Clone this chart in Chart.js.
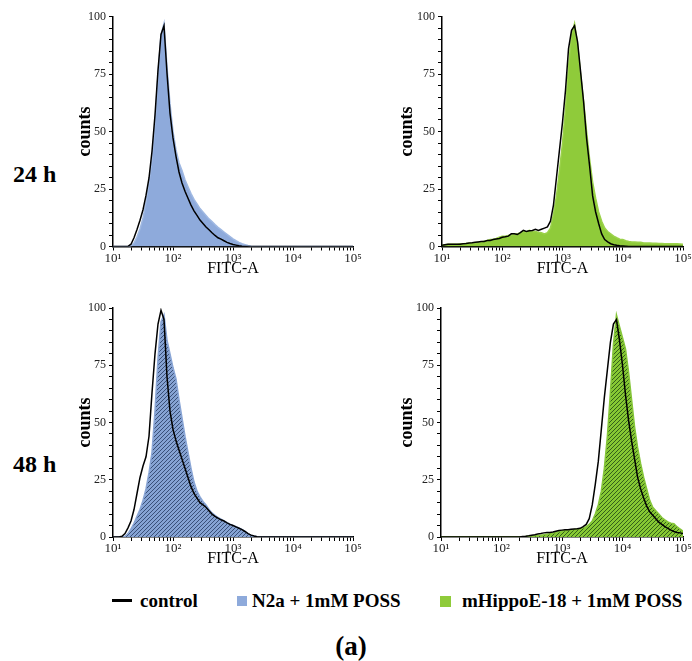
<!DOCTYPE html>
<html>
<head>
<meta charset="utf-8">
<script src="https://cdn.jsdelivr.net/npm/chart.js@4.4.1/dist/chart.umd.min.js"></script>
<style>
    html, body { margin: 0; padding: 0; background: #fff; }
    body {
        width: 692px; height: 661px; position: relative; overflow: hidden;
        font-family: 'Liberation Serif', 'Times New Roman', serif; color: #000;
    }
    canvas { position: absolute; }
    .row-label { position: absolute; left: 13px; font-weight: bold; font-size: 24px; line-height: 24px; }
    .legend-text { position: absolute; top: 591px; font-weight: bold; font-size: 19px; line-height: 20px; white-space: nowrap; }
    .legend-box { position: absolute; top: 596px; width: 10px; height: 10px; }
    .legend-line { position: absolute; left: 112px; top: 599px; width: 20px; height: 2.5px; background: #000; }
    .caption { position: absolute; left: 300px; width: 102px; top: 632px; text-align: center; font-weight: bold; font-size: 27px; line-height: 28px; }
</style>
</head>
<body>

<div class="row-label" style="top:162px">24 h</div>
<div class="row-label" style="top:452px">48 h</div>

<canvas id="chartN2a24" width="310" height="285" style="left:60px;top:0px"></canvas>
<canvas id="chartHippo24" width="307" height="285" style="left:385px;top:0px"></canvas>
<canvas id="chartN2a48" width="310" height="280" style="left:60px;top:295px"></canvas>
<canvas id="chartHippo48" width="307" height="280" style="left:385px;top:295px"></canvas>

<div class="legend-line"></div>
<div class="legend-text" style="left:140px">control</div>
<div class="legend-box" style="left:237px;background:#8eaadb"></div>
<div class="legend-text" style="left:252px">N2a + 1mM POSS</div>
<div class="legend-box" style="left:440px;width:11px;height:11px;background:#8fcb3a"></div>
<div class="legend-text" style="left:462px">mHippoE-18 + 1mM POSS</div>

<div class="caption">(a)</div>

<script>
// ===== Datos (exponente log10 de FITC-A y cuentas normalizadas) =====
const logFitc = [
    1.00, 1.05, 1.10, 1.15, 1.20, 1.25, 1.30, 1.35, 1.40, 1.45,
    1.50, 1.55, 1.60, 1.65, 1.70, 1.75, 1.80, 1.85, 1.90, 1.95,
    2.00, 2.05, 2.10, 2.15, 2.20, 2.25, 2.30, 2.35, 2.40, 2.45,
    2.50, 2.55, 2.60, 2.65, 2.70, 2.75, 2.80, 2.85, 2.90, 2.95,
    3.00, 3.05, 3.10, 3.15, 3.20, 3.25, 3.30, 3.35, 3.40, 3.45,
    3.50, 3.55, 3.60, 3.65, 3.70, 3.75, 3.80, 3.85, 3.90, 3.95,
    4.00, 4.05, 4.10, 4.15, 4.20, 4.25, 4.30, 4.35, 4.40, 4.45,
    4.50, 4.55, 4.60, 4.65, 4.70, 4.75, 4.80, 4.85, 4.90, 4.95,
    5.00
];

const decadeLabels = ['10¹', '10²', '10³', '10⁴', '10⁵'];
const countLabels = [0, 25, 50, 75, 100];
const rowLabels = ['24 h', '48 h'];
const seriesNames = ['control', 'N2a + 1mM POSS', 'mHippoE-18 + 1mM POSS'];

// 24 h - N2a
const n2a24Treated = [
    0, 0, 0, 0, 0, 0, 0.3, 1.5, 4.2, 7.6,
    12.4, 19.2, 27.6, 37.8, 53.4, 74.8, 92, 97, 78, 62,
    50, 42, 36.4, 33, 29, 26, 23, 20.5, 18.5, 16.5,
    15, 13.5, 12, 10.8, 9.5, 8.3, 7.3, 6.3, 5.3, 4.3,
    3.3, 2.5, 1.8, 1.2, 0.8, 0.4, 0.1, 0, 0, 0,
    0, 0, 0, 0, 0, 0, 0, 0, 0, 0,
    0, 0, 0, 0, 0, 0, 0, 0, 0, 0,
    0, 0, 0, 0, 0, 0, 0, 0, 0, 0,
    0
];
const n2a24Control = [
    0, 0, 0, 0, 0, 0.1, 1, 3.8, 7.4, 11.4,
    16, 22.2, 29.8, 41.4, 57.2, 76.6, 92.2, 96, 75.4, 58,
    47.2, 39.2, 32.4, 27.6, 24, 21, 18, 15.5, 13.5, 11.5,
    10, 8.5, 7.3, 6, 4.8, 3.8, 3.2, 2.5, 1.8, 1.3,
    0.9, 0.6, 0.3, 0.1, 0, 0, 0, 0, 0, 0,
    0, 0, 0, 0, 0, 0, 0, 0, 0, 0,
    0, 0, 0, 0, 0, 0, 0, 0, 0, 0,
    0, 0, 0, 0, 0, 0, 0, 0, 0, 0,
    0
];

// 24 h - mHippoE-18
const hippo24Treated = [
    0.5, 0.8, 1, 1, 1, 1, 1.2, 1.2, 1.3, 1.4,
    1.5, 1.6, 1.8, 2, 2.3, 2.6, 3, 3.2, 3.5, 4,
    4.5, 4.5, 4.8, 5, 5.2, 5.5, 6, 6.5, 6.3, 7,
    6.5, 6.5, 6.2, 6, 5.5, 6, 8, 14, 22, 33,
    45, 60, 78, 92, 97, 88, 75, 63, 50, 38,
    28, 21, 15, 11, 8, 6.5, 5.5, 4.5, 3.8, 3.2,
    3, 2.5, 2.2, 2, 2, 1.8, 1.8, 1.5, 1.5, 1.5,
    1.4, 1.4, 1.3, 1.3, 1.2, 1.2, 1.2, 1.2, 1.2, 1.1,
    1
];
const hippo24Control = [
    0.5, 0.8, 1, 1, 1, 1, 1, 1.2, 1.3, 1.5,
    1.6, 1.8, 2, 2.2, 2.2, 2.6, 2.6, 3, 3.3, 3.5,
    4, 4.2, 4.5, 5.5, 5.5, 5.2, 6, 7, 6.5, 6.8,
    7, 7.5, 7, 7.5, 8, 8.5, 11, 18, 30, 42,
    54, 68, 86, 94, 96, 89, 76, 63, 47, 35,
    22, 15, 10, 5.5, 3, 2, 1.2, 0.8, 0.5, 0.3,
    0.2, 0.1, 0, 0, 0, 0, 0, 0, 0, 0,
    0, 0, 0, 0, 0, 0, 0, 0, 0, 0,
    0
];

// 48 h - N2a
const n2a48Treated = [
    0, 0, 0, 0, 0.3, 1.5, 3.5, 6, 9, 12,
    16, 21, 28, 37, 55, 78, 94, 97, 86, 80,
    74, 69, 60, 52, 44, 37, 30, 24, 20, 17.5,
    15.5, 14, 12, 10.5, 9.5, 8.5, 7.8, 7, 6.3, 5.6,
    5, 4.5, 4, 3.3, 2.5, 1.5, 0.8, 0.4, 0.1, 0,
    0, 0, 0, 0, 0, 0, 0, 0, 0, 0,
    0, 0, 0, 0, 0, 0, 0, 0, 0, 0,
    0, 0, 0, 0, 0, 0, 0, 0, 0, 0,
    0
];
const n2a48Control = [
    0, 0, 0, 0.3, 1.5, 4, 7, 12, 19, 26,
    31, 35, 44, 63, 80, 93, 99, 95, 70, 55,
    47, 42, 38, 34, 30, 26, 22, 19, 17, 15,
    14, 13, 11.5, 10, 9, 8.2, 7.5, 7, 6.2, 5.5,
    5, 4.4, 3.8, 3.2, 2.4, 1.5, 0.8, 0.4, 0.1, 0,
    0, 0, 0, 0, 0, 0, 0, 0, 0, 0,
    0, 0, 0, 0, 0, 0, 0, 0, 0, 0,
    0, 0, 0, 0, 0, 0, 0, 0, 0, 0,
    0
];

// 48 h - mHippoE-18
const hippo48Treated = [
    0, 0, 0, 0, 0, 0, 0, 0, 0, 0,
    0, 0, 0, 0, 0, 0, 0, 0, 0, 0,
    0, 0, 0, 0, 0, 0, 0, 0, 0.2, 0.3,
    0.4, 0.5, 0.6, 0.8, 1, 1.2, 1.4, 1.6, 2, 2.3,
    2.6, 2.8, 3, 3.2, 3.3, 3.5, 3.6, 4, 4.5, 5.5,
    7, 10, 14, 20, 30, 44, 63, 84, 97, 92,
    87, 82, 72, 60, 48, 39, 32, 26, 21, 16,
    13, 11.5, 10, 8.5, 7.5, 6.6, 6, 5.8, 4.5, 3.5,
    2.6
];
const hippo48Control = [
    0, 0, 0, 0, 0, 0, 0, 0, 0, 0,
    0, 0, 0, 0, 0, 0, 0, 0, 0, 0,
    0, 0, 0, 0, 0, 0, 0, 0.2, 0.3, 0.5,
    0.8, 1, 1.3, 1.5, 1.8, 2, 2, 2.2, 2.5, 2.8,
    3, 3.2, 3.2, 3.4, 3.5, 3.6, 3.8, 4.5, 5.5, 8,
    14, 23, 33, 47, 61, 73, 85, 93, 95, 86,
    75, 62, 51, 42, 34, 26, 21, 17, 13.5, 11,
    9.5, 8, 6.5, 5.5, 4.5, 3.8, 3, 2.4, 2, 1.8,
    1.5
];

(function() {
    'use strict';

    const BLUE = '#8eaadb';
    const GREEN = '#8fcb3a';
    const FONT = "'Liberation Serif', 'Times New Roman', serif";

    // Relleno rayado (paneles de 48 h)
    function makeHatch(base, stripe) {
        const c = document.createElement('canvas');
        c.width = 4; c.height = 4;
        const g = c.getContext('2d');
        g.fillStyle = base;
        g.fillRect(0, 0, 4, 4);
        g.strokeStyle = stripe;
        g.lineWidth = 1;
        g.beginPath();
        g.moveTo(0, 4); g.lineTo(4, 0);
        g.moveTo(-1, 1); g.lineTo(1, -1);
        g.moveTo(3, 5); g.lineTo(5, 3);
        g.stroke();
        return g.createPattern(c, 'repeat');
    }

    function toPoints(values) {
        return logFitc.map((e, i) => ({ x: Math.pow(10, e), y: values[i] }));
    }

    function buildChart(id, cfg) {
        const ctx = document.getElementById(id).getContext('2d');
        return new Chart(ctx, {
            type: 'line',
            data: {
                datasets: [
                    {
                        label: seriesNames[0],
                        data: toPoints(cfg.control),
                        borderColor: '#000',
                        borderWidth: 1.5,
                        pointRadius: 0,
                        fill: false,
                        tension: 0,
                        order: 0
                    },
                    {
                        label: cfg.name,
                        data: toPoints(cfg.treated),
                        backgroundColor: cfg.fill,
                        borderColor: cfg.edge,
                        borderWidth: 1.5,
                        pointRadius: 0,
                        fill: 'origin',
                        tension: 0,
                        order: 1
                    }
                ]
            },
            options: {
                responsive: false,
                animation: false,
                events: [],
                layout: { padding: { top: cfg.padTop, right: cfg.padRight, left: 0, bottom: 0 } },
                plugins: { legend: { display: false }, tooltip: { enabled: false } },
                scales: {
                    x: {
                        type: 'logarithmic',
                        min: 10,
                        max: 100000,
                        border: { display: true, color: '#000', width: 1.5 },
                        grid: { display: true, drawOnChartArea: false, drawTicks: true, tickLength: 4, tickColor: '#000', lineWidth: 1 },
                        afterBuildTicks: (scale) => {
                            scale.ticks = scale.ticks.filter(t => {
                                const m = t.value / Math.pow(10, Math.floor(Math.log10(t.value) + 1e-9));
                                return Math.abs(m - Math.round(m)) < 1e-6;
                            });
                        },
                        afterFit: (scale) => { scale.height = cfg.xHeight; },
                        ticks: {
                            autoSkip: false,
                            maxRotation: 0,
                            padding: 0,
                            color: '#222',
                            font: { family: FONT, size: 13 },
                            callback: (value) => {
                                const e = Math.log10(value);
                                if (Math.abs(e - Math.round(e)) < 1e-6) return decadeLabels[Math.round(e) - 1] || '';
                                return '';
                            }
                        },
                        title: {
                            display: true,
                            text: 'FITC-A',
                            color: '#000',
                            font: { family: FONT, size: 16 },
                            padding: { top: 0, bottom: cfg.xTitlePad }
                        }
                    },
                    y: {
                        type: 'linear',
                        min: 0,
                        max: 100,
                        border: { display: true, color: '#000', width: 1.5 },
                        grid: { display: true, drawOnChartArea: false, drawTicks: true, tickLength: 4, tickColor: '#000', lineWidth: 1 },
                        afterFit: (scale) => { scale.width = cfg.yWidth; },
                        ticks: {
                            stepSize: 5,
                            autoSkip: false,
                            padding: 3,
                            color: '#222',
                            font: { family: FONT, size: 12 },
                            callback: (value) => countLabels.includes(value) ? String(value) : ''
                        },
                        title: {
                            display: true,
                            text: 'counts',
                            color: '#000',
                            font: { family: FONT, size: 18, weight: 'bold' },
                            padding: { top: cfg.yTitlePad, bottom: 0 }
                        }
                    }
                }
            }
        });
    }

    const blueHatch = makeHatch('#86a3d3', '#3a5078');
    const greenHatch = makeHatch('#86c833', '#34601a');

    buildChart('chartN2a24', {
        name: seriesNames[1], control: n2a24Control, treated: n2a24Treated,
        fill: BLUE, edge: '#9fb8e2',
        padTop: 16.5, padRight: 17, yWidth: 53, xHeight: 38.5, xTitlePad: 6.9, yTitlePad: 14.2
    });
    buildChart('chartHippo24', {
        name: seriesNames[2], control: hippo24Control, treated: hippo24Treated,
        fill: GREEN, edge: '#9bd24a',
        padTop: 16.5, padRight: 9, yWidth: 57, xHeight: 38.5, xTitlePad: 6.9, yTitlePad: 11.2
    });
    buildChart('chartN2a48', {
        name: seriesNames[1], control: n2a48Control, treated: n2a48Treated,
        fill: blueHatch, edge: '#8aa6d6',
        padTop: 13, padRight: 17, yWidth: 53, xHeight: 38, xTitlePad: 6.4, yTitlePad: 14.2
    });
    buildChart('chartHippo48', {
        name: seriesNames[2], control: hippo48Control, treated: hippo48Treated,
        fill: greenHatch, edge: '#86c63a',
        padTop: 13, padRight: 9, yWidth: 56, xHeight: 38, xTitlePad: 6.4, yTitlePad: 11.9
    });
})();
</script>
</body>
</html>
